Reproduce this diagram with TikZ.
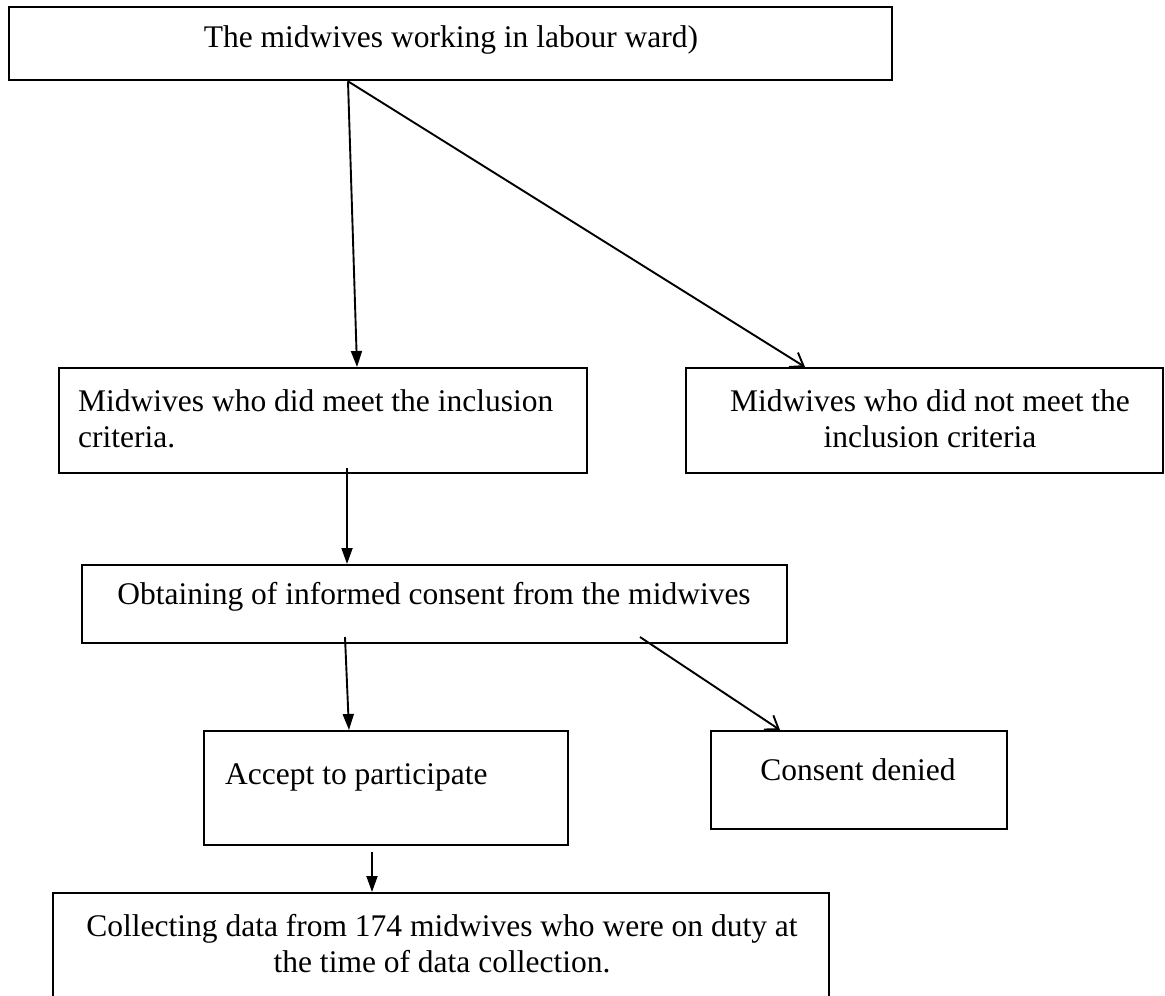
\documentclass[tikz,border=0pt]{standalone}
\usepackage{fontspec}
\setmainfont{Liberation Serif}
\usetikzlibrary{arrows.meta}
\begin{document}
\begin{tikzpicture}[x=1pt,y=-1pt,
  box/.style={draw=black,line width=2pt,inner sep=0pt,rectangle},
  txt/.style={inner sep=0pt,font=\fontsize{31.5}{36}\selectfont},
  fa/.style={line width=1.9pt,-{Triangle[length=16pt,width=11pt]}},
  oa/.style={line width=1.9pt,-{Straight Barb[length=12pt,width=17pt,line width=1.9pt]}}]
\clip (0,0) rectangle (1165,996);
\fill[white] (0,0) rectangle (1165,996);
\node[box,line width=2.6pt,minimum width=883pt,minimum height=73pt] (b1) at (450.5,43.5) {};
\node[box,minimum width=528pt,minimum height=105pt] (b2) at (323,420.5) {};
\node[box,minimum width=477pt,minimum height=105pt] (b3) at (924.5,420.5) {};
\node[box,minimum width=705pt,minimum height=78pt] (b4) at (434.5,604) {};
\node[box,minimum width=364pt,minimum height=114pt] (b5) at (386,788) {};
\node[box,minimum width=296pt,minimum height=98pt] (b6) at (859,780) {};
\node[box,minimum width=776pt,minimum height=117pt] (b7) at (441,951.5) {};
\node[txt] (t1) at (451,40) {The midwives working in labour ward)};
\node[txt,anchor=west,align=left] (t2) at (78,419) {Midwives who did meet the inclusion\\criteria.};
\node[txt,align=center] (t3) at (930,419) {Midwives who did not meet the\\inclusion criteria};
\node[txt] (t4) at (434,597) {Obtaining of informed consent from the midwives};
\node[txt,anchor=west] (t5) at (225,777) {Accept to participate};
\node[txt] (t6) at (858,770) {Consent denied};
\node[txt,align=center] (t7) at (442,944) {Collecting data from 174 midwives who were on duty at\\the time of data collection.};
\draw[fa] (348,0 |- b1.south) -- (357,0 |- b2.north);
\draw[oa] (348,0 |- b1.south) -- (805,0 |- b3.north);
\draw[fa] (347,0 |- b2.south) ++(0,-6) -- (347,0 |- b4.north);
\draw[fa] (345,0 |- b4.south) ++(0,-7) -- (349,0 |- b5.north);
\draw[oa] (640,0 |- b4.south) ++(0,-7) -- (780,0 |- b6.north);
\draw[fa] (372,0 |- b5.south) ++(0,6) -- (372,0 |- b7.north);
\end{tikzpicture}
\end{document}
